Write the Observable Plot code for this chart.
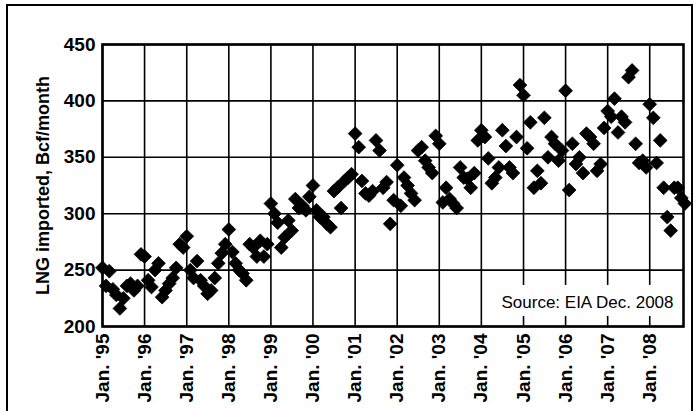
<!DOCTYPE html>
<html>
<head>
<meta charset="utf-8">
<script src="https://cdn.jsdelivr.net/npm/d3@7"></script>
<script src="https://cdn.jsdelivr.net/npm/@observablehq/plot@0.6"></script>
<style>
  html, body { margin: 0; padding: 0; background: white; }
  #wrap { position: relative; width: 698px; height: 411px; overflow: hidden; background: white; }
  #outer { position: absolute; left: 6px; top: 4px; width: 687px; height: 520px; border: 2px solid black; box-sizing: border-box; pointer-events: none; }
</style>
</head>
<body>
<div id="wrap"><div id="outer"></div></div>
<script>
// Monthly LNG imports, Bcf/month, Jan 1995 - Nov 2008
const years = [1995, 1996, 1997, 1998, 1999, 2000, 2001, 2002, 2003, 2004, 2005, 2006, 2007, 2008];
const v1995 = [252, 236, 249, 233, 228, 216, 225, 236, 238, 232, 236, 264];
const v1996 = [262, 241, 235, 250, 256, 226, 232, 238, 243, 252, 273, 270];
const v1997 = [280, 250, 243, 258, 241, 236, 229, 232, 243, 256, 265, 273];
const v1998 = [286, 266, 256, 250, 247, 241, 273, 270, 262, 276, 262, 273];
const v1999 = [309, 300, 292, 270, 279, 294, 285, 313, 305, 307, 303, 315];
const v2000 = [325, 303, 297, 297, 291, 288, 320, 323, 305, 329, 332, 335];
const v2001 = [371, 359, 329, 318, 316, 320, 365, 356, 323, 328, 291, 312];
const v2002 = [343, 307, 332, 325, 318, 312, 356, 359, 347, 341, 336, 369];
const v2003 = [362, 310, 323, 313, 309, 305, 341, 332, 331, 323, 336, 365];
const v2004 = [374, 368, 349, 327, 332, 341, 374, 360, 341, 336, 368, 414];
const v2005 = [405, 358, 381, 323, 338, 327, 385, 350, 368, 362, 347, 356];
const v2006 = [409, 321, 362, 344, 350, 336, 371, 368, 362, 338, 344, 376];
const v2007 = [391, 386, 402, 372, 386, 381, 421, 427, 362, 345, 347, 341];
const v2008 = [397, 385, 345, 365, 323, 297, 285, 323, 323, 314, 309];
const yTicks = [200, 250, 300, 350, 400, 450];
const yLabel = "LNG imported, Bcf/month";
const sourceLabel = "Source: EIA Dec. 2008";
const domainStart = "1995-01-01";
const domainEnd = "2008-10-20";

const byYear = [v1995, v1996, v1997, v1998, v1999, v2000, v2001, v2002, v2003, v2004, v2005, v2006, v2007, v2008];
const data = [];
byYear.forEach((vals, i) => vals.forEach((v, m) => data.push({date: new Date(Date.UTC(years[i], m, 1)), value: v})));
const yearDates = years.map(y => new Date(Date.UTC(y, 0, 1)));

const chart = Plot.plot({
  width: 698,
  height: 411,
  marginLeft: 102,
  marginRight: 15,
  marginTop: 44,
  marginBottom: 85,
  style: {fontFamily: "'Liberation Sans', Arial, sans-serif", fontSize: "19px", fontWeight: "bold", background: "white", color: "black", overflow: "visible"},
  x: {type: "utc", domain: [new Date(domainStart), new Date(domainEnd)], ticks: yearDates,
      tickFormat: d => `Jan. '${String(d.getUTCFullYear()).slice(2)}`, tickRotate: -90, tickSize: 0, tickPadding: 7, label: null},
  y: {domain: [200, 450], ticks: yTicks, tickSize: 0, tickPadding: 7, label: null},
  marks: [
    Plot.gridX(yearDates, {stroke: "black", strokeOpacity: 1, strokeWidth: 1.6}),
    Plot.gridY(yTicks, {stroke: "black", strokeOpacity: 1, strokeWidth: 1.6}),
    Plot.dot(data, {x: "date", y: "value", symbol: "diamond2", r: 6.2, fill: "black", stroke: "black", strokeWidth: 0.8}),
    Plot.text([sourceLabel], {text: d => d, frameAnchor: "bottom-right", dx: -10, dy: -24, lineAnchor: "middle", fontWeight: "normal", fontSize: 17, fill: "black"}),
    Plot.text([yLabel], {text: d => d, frameAnchor: "left", textAnchor: "middle", lineAnchor: "middle", rotate: -90, dx: -59, fontSize: 18, fill: "black"}),
    Plot.frame({stroke: "black", strokeWidth: 2.6})
  ]
});
const wrap = document.getElementById("wrap");
wrap.insertBefore(chart, wrap.firstChild);

// white box behind the source note
const src = Array.from(chart.querySelectorAll("text")).find(t => t.textContent === sourceLabel);
if (src) {
  const bb = src.getBBox();
  const rect = document.createElementNS("http://www.w3.org/2000/svg", "rect");
  rect.setAttribute("x", bb.x - 10);
  rect.setAttribute("y", bb.y - 8);
  rect.setAttribute("width", bb.width + 20);
  rect.setAttribute("height", bb.height + 12);
  rect.setAttribute("fill", "white");
  const t = src.getAttribute("transform");
  if (t) rect.setAttribute("transform", t);
  src.parentNode.insertBefore(rect, src);
}
</script>
</body>
</html>
